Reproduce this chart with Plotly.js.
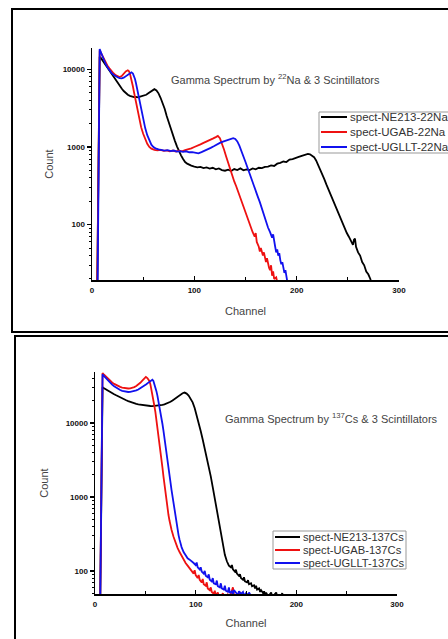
<!DOCTYPE html>
<html><head><meta charset="utf-8">
<script src="https://cdn.plot.ly/plotly-3.0.1.min.js"></script>
<style>html,body{margin:0;padding:0;background:#fff;}#chart{width:448px;height:639px;}</style>
</head><body><div id="chart"></div>
<script>
// ---------- 22Na panel ----------
const naTitle = 'Gamma Spectrum by <sup>22</sup>Na & 3 Scintillators';
const naNames = ['spect-NE213-22Na', 'spect-UGAB-22Na', 'spect-UGLLT-22Na'];
const naBlackX = [4.5,7.5,9,11,13,15,17,19,21,23,25,27,29,31,33,35,37,39,41,43,45,47,49,51,53,55,57,59,61,63,65,67,69,71,73,75,77,79,81,83,85,87,89,91,93,95,97,100,103,106,109,112,115,118,121,124,127,130,133,136,139,142,145,148,151,154,157,160,163,166,169,172,175,178,181,184,187,190,193,196,199,202,205,208,211,213,215,217,219,221,223,225,227,229,231,233,235,237,239,241,243,245,247,249,251,253,255,256,257,258,260,262,264,266,268,270,272,274];
const naBlackY = [3,14500,13800,12600,11400,10300,9400,8600,7900,7200,6600,6100,5650,5250,4950,4700,4550,4450,4380,4420,4350,4450,4500,4560,4700,4900,5150,5400,5550,5350,4900,4300,3700,3100,2500,2050,1700,1420,1200,1020,880,780,700,640,610,590,575,560,548,555,535,545,528,540,515,530,505,495,510,490,520,505,530,500,515,505,530,515,540,535,555,560,580,570,610,625,650,640,690,700,730,745,770,790,815,805,780,740,670,590,510,440,385,330,285,250,215,185,160,140,118,102,90,78,70,61,55,64,66,52,44,40,33,30,25,23,20,16];
const naRedX = [4.5,7.5,9,11,13,15,17,19,21,23,25,27,29,31,33,35,36,37,38,39,40,41,42,43,44,45,46,48,50,52,54,56,58,61,64,67,70,73,76,79,82,85,88,91,94,97,100,103,106,109,112,115,118,121,123,125,127,129,131,133,135,137,139,141,143,145,147,149,151,153,155,157,159,160,161,163,164,165,167,168,170,171,173,174,175,176,177,178,180,181,183];
const naRedY = [3,17500,16000,14000,12400,11200,10300,9500,8900,8400,8100,7950,8200,8800,9400,9700,9500,8900,8000,7000,6000,5100,4400,3700,3100,2650,2300,1800,1480,1250,1100,1000,950,920,905,915,890,905,880,900,875,895,880,910,930,960,1000,1030,1080,1130,1170,1220,1280,1340,1390,1300,1120,930,760,620,510,430,360,310,260,225,190,160,130,108,95,80,70,78,60,52,45,50,40,44,33,37,28,26,30,22,25,20,21,17,14];
const naBlueX = [5,7.5,9,11,13,15,17,19,21,23,25,27,29,31,33,35,37,38.5,40,41,42,43,44,45,46,47,48,49,50,52,54,56,58,60,62,65,68,71,74,77,80,83,86,89,92,95,98,101,104,107,110,113,116,119,122,125,128,131,134,136,138,140,142,144,146,148,150,152,154,156,158,160,162,164,166,168,170,172,174,176,177,178,179,180,181,182,183,184,185,186,187,188,189,190,191,193];
const naBlueY = [3,18200,16200,13800,12000,10700,9700,9000,8500,8100,7900,7700,7650,7800,8200,8600,9000,9150,8800,8200,7500,6600,5700,4900,4200,3600,3050,2600,2250,1750,1420,1200,1070,1000,960,930,915,900,910,885,900,870,885,865,880,855,860,840,830,860,890,930,975,1020,1080,1130,1170,1210,1250,1280,1300,1270,1180,1040,900,760,640,540,450,380,320,270,230,195,160,130,108,92,80,68,75,58,52,44,48,40,43,35,31,33,27,24,26,21,18,14];

// ---------- 137Cs panel ----------
const csTitle = 'Gamma Spectrum by <sup>137</sup>Cs & 3 Scintillators';
const csNames = ['spect-NE213-137Cs', 'spect-UGAB-137Cs', 'spect-UGLLT-137Cs'];
const csBlackX = [4.5,7.5,9,11,13,15,17,19,21,23,25,27,29,31,33,35,37,39,41,43,45,47,49,51,53,55,57,59,61,63,65,67,69,71,73,75,77,79,81,83,85,87,89,90,91,93,95,97,99,101,103,105,107,109,111,113,115,117,119,121,123,125,127,129,131,133,135,136,137,139,140,141,143,144,145,147,148,149,151,152,153,155,156,158,159,160,161,163,164,165,167,168,169,170,172,174,175,176,178,180,181,184,186,187,189,191];
const csBlackY = [5,30500,29500,28300,27200,26200,25300,24500,23700,22900,22200,21500,20900,20300,19800,19300,18900,18500,18200,17900,17700,17500,17300,17150,17050,17000,16950,17000,17050,17150,17350,17600,17900,18300,18800,19400,20200,21100,22200,23300,24400,25300,25800,25600,25000,23500,21500,19000,16000,12800,10000,7800,6000,4600,3500,2600,1900,1350,960,680,480,340,230,165,135,118,112,120,105,98,104,92,86,90,80,76,82,72,70,75,66,68,62,64,58,63,56,58,52,55,50,53,47,51,45,49,51,44,48,51,45,43,50,44,40,35];
const csRedX = [4.5,7.5,9,11,13,15,17,19,21,23,25,27,29,31,33,35,37,39,41,43,45,47,49,50.5,52,53,54,55,56,57,58,59,60,61,62,63,64,65,66,67,68,69,70,71,72,73,74,75,76,78,80,82,84,86,88,90,92,94,96,98,99,100,102,103,104,106,107,108,110,111,112,114,115,116,118,119,120,122,123,125,127,128,130,132,134,136,137,138,140,142,144,145,147];
const csRedY = [5,47500,45000,42000,39500,37200,35300,33800,32600,31600,30800,30200,29700,29400,29300,29500,29900,30600,31600,33000,35000,37500,40500,42000,40500,39000,37000,33500,29000,24500,20500,17000,14000,11200,8800,6900,5400,4200,3250,2500,1900,1450,1100,860,690,570,480,410,360,290,240,205,180,160,142,128,118,108,100,92,102,88,80,88,76,70,78,66,63,70,58,55,60,52,49,54,47,51,46,44,50,45,42,48,44,55,60,48,43,47,52,46,40];
const csBlueX = [4.5,7.5,9,11,13,15,17,19,21,23,25,27,29,31,33,35,37,39,41,43,45,47,49,51,53,55,57,58,59,60,61,62,63,64,65,66,67,68,69,70,71,72,73,74,75,76,77,78,79,80,81,82,83,84,85,86,88,90,92,94,96,98,100,101,102,104,105,106,108,109,110,112,113,114,116,117,118,120,121,122,124,125,126,128,129,130,132,133,134,136,137,138,140,142,143,145,147,148,150,152,153,155,157];
const csBlueY = [5,45500,43000,40000,37300,35000,33000,31400,30000,28900,28000,27300,26800,26500,26300,26400,26600,27000,27600,28400,29400,30600,32000,33500,35200,37000,38500,37000,34000,30500,27000,23500,20000,17000,14200,11800,9700,7900,6400,5100,4100,3250,2550,2000,1580,1250,1000,800,640,520,430,360,305,265,235,210,180,160,148,142,136,128,120,130,112,105,112,98,92,100,86,82,90,76,72,80,68,66,74,62,60,68,58,56,63,54,52,60,50,53,48,55,51,47,53,49,52,46,50,47,51,46,44];

// ---------- tick labels ----------
const xTickVals = [0, 100, 200, 300];
const xTickText = ['0', '100', '200', '300'];
const yTickVals = [100, 1000, 10000];
const yTickText = ['100', '1000', '10000'];
const yMinorVals = [20,30,40,50,60,70,80,90,200,300,400,500,600,700,800,900,2000,3000,4000,5000,6000,7000,8000,9000,20000,30000,40000,50000];
const xMinorVals = [50, 150, 250];

const colors = ['#000000', '#ee1111', '#1111ee'];
const FONT = 'Liberation Sans, Arial, sans-serif';
const W = 448, H = 639;
const PX = x => x / W;
const PY = y => 1 - y / H;

function mk(x, y, name, color, xa, ya) {
  return {x: x, y: y, name: name, type: 'scatter', mode: 'lines', xaxis: xa, yaxis: ya,
          line: {color: color, width: 1.8}, showlegend: false, hoverinfo: 'skip'};
}
const data = [
  mk(naBlackX, naBlackY, naNames[0], colors[0], 'x', 'y'),
  mk(naRedX, naRedY, naNames[1], colors[1], 'x', 'y'),
  mk(naBlueX, naBlueY, naNames[2], colors[2], 'x', 'y'),
  mk(csBlackX, csBlackY, csNames[0], colors[0], 'x2', 'y2'),
  mk(csRedX, csRedY, csNames[1], colors[1], 'x2', 'y2'),
  mk(csBlueX, csBlueY, csNames[2], colors[2], 'x2', 'y2')
];

function xAxis(domain, anchor, standoff) {
  return {domain: domain, anchor: anchor, range: [0, 300], tickmode: 'array', tickvals: xTickVals, ticktext: xTickText,
    ticks: 'inside', ticklen: 4, tickwidth: 1.2, tickcolor: '#000', showline: true, linecolor: '#000', linewidth: 1.5,
    showgrid: false, zeroline: false, fixedrange: true, ticklabelstandoff: 2,
    minor: {tickmode: 'array', tickvals: xMinorVals, ticks: 'inside', ticklen: 3, tickwidth: 1, tickcolor: '#000', showgrid: false},
    tickfont: {family: FONT, size: 8, color: '#111', weight: 'bold'},
    title: {text: 'Channel', font: {family: FONT, size: 11, color: '#444'}, standoff: standoff}};
}
function yAxis(domain, anchor, range, standoff) {
  return {domain: domain, anchor: anchor, type: 'log', range: range, tickmode: 'array', tickvals: yTickVals, ticktext: yTickText,
    ticks: 'outside', ticklen: 4, tickwidth: 1.2, tickcolor: '#000', showline: true, linecolor: '#000', linewidth: 1.5,
    showgrid: false, zeroline: false, fixedrange: true,
    minor: {tickmode: 'array', tickvals: yMinorVals, ticks: 'outside', ticklen: 2, tickwidth: 1, tickcolor: '#000', showgrid: false},
    tickfont: {family: FONT, size: 8, color: '#111', weight: 'bold'},
    title: {text: 'Count', font: {family: FONT, size: 11, color: '#444'}, standoff: standoff}};
}

const shapes = [
  {type: 'rect', xref: 'paper', yref: 'paper', x0: PX(12), x1: PX(470), y0: PY(332), y1: PY(9), line: {color: '#000', width: 2}},
  {type: 'rect', xref: 'paper', yref: 'paper', x0: PX(15), x1: PX(470), y0: PY(660), y1: PY(336), line: {color: '#000', width: 2}},
  // legend boxes
  {type: 'rect', xref: 'paper', yref: 'paper', x0: PX(319), x1: PX(470), y0: PY(153), y1: PY(112), line: {color: '#999', width: 1}, fillcolor: '#fff'},
  {type: 'rect', xref: 'paper', yref: 'paper', x0: PX(273), x1: PX(406), y0: PY(569), y1: PY(531), line: {color: '#999', width: 1}, fillcolor: '#fff'}
];
const annotations = [
  {xref: 'paper', yref: 'paper', x: PX(275), y: PY(79), text: naTitle, showarrow: false, xanchor: 'center', yanchor: 'middle',
   font: {family: FONT, size: 11, color: '#444'}},
  {xref: 'paper', yref: 'paper', x: PX(331), y: PY(418), text: csTitle, showarrow: false, xanchor: 'center', yanchor: 'middle',
   font: {family: FONT, size: 11, color: '#444'}}
];
const legRowsTop = [117, 132, 147];
const legRowsBot = [537, 550, 563];
for (let i = 0; i < 3; i++) {
  shapes.push({type: 'line', xref: 'paper', yref: 'paper', x0: PX(321), x1: PX(347), y0: PY(legRowsTop[i]), y1: PY(legRowsTop[i]), line: {color: colors[i], width: 2}});
  annotations.push({xref: 'paper', yref: 'paper', x: PX(348), y: PY(legRowsTop[i]), text: naNames[i], showarrow: false, xanchor: 'left', yanchor: 'middle',
    font: {family: FONT, size: 11.5, color: '#333'}});
  shapes.push({type: 'line', xref: 'paper', yref: 'paper', x0: PX(275), x1: PX(300), y0: PY(legRowsBot[i]), y1: PY(legRowsBot[i]), line: {color: colors[i], width: 2}});
  annotations.push({xref: 'paper', yref: 'paper', x: PX(301), y: PY(legRowsBot[i]), text: csNames[i], showarrow: false, xanchor: 'left', yanchor: 'middle',
    font: {family: FONT, size: 11.2, color: '#333'}});
}

const layout = {
  width: W, height: H, margin: {l: 0, r: 0, t: 0, b: 0},
  paper_bgcolor: '#fff', plot_bgcolor: 'rgba(0,0,0,0)', showlegend: false,
  font: {family: FONT},
  xaxis: xAxis([PX(92), PX(399)], 'y', 13),
  yaxis: yAxis([PY(280), PY(48)], 'x', [1.288, 4.274], 7),
  xaxis2: xAxis([PX(95), PX(397)], 'y2', 11),
  yaxis2: yAxis([PY(594), PY(372)], 'x2', [1.688, 4.69], 15),
  shapes: shapes, annotations: annotations
};
Plotly.newPlot('chart', data, layout, {displayModeBar: false, staticPlot: true});
</script></body></html>
